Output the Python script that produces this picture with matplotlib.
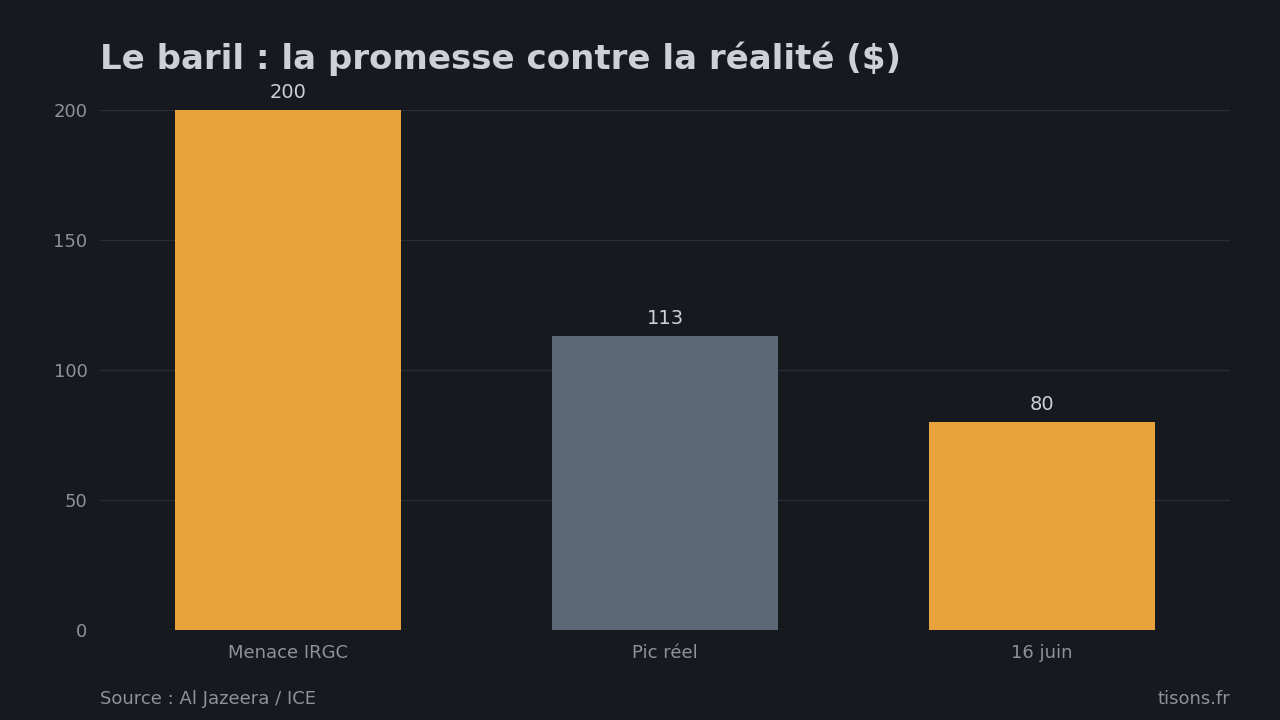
import matplotlib.pyplot as plt

categories = ["Menace IRGC", "Pic réel", "16 juin"]
values = [200, 113, 80]
colors = ["#E8A33C", "#5C6875", "#E8A33C"]

bg = "#16191E"
fig = plt.figure(figsize=(12.8, 7.2), dpi=100, facecolor=bg)
ax = fig.add_axes([100 / 1280, 1 - 630 / 720, 1130 / 1280, 520 / 720], facecolor=bg)

x = range(len(categories))
bars = ax.bar(x, values, width=0.6, color=colors, zorder=2)
for b, v in zip(bars, values):
    ax.text(b.get_x() + b.get_width() / 2, v + 3, f"{v}", ha="center", va="bottom",
            fontsize=14, color="#CDD0D5")

ax.set_xlim(-0.5, 2.5)
ax.set_ylim(0, 200)
ax.set_yticks([0, 50, 100, 150, 200])
ax.set_xticks(list(x))
ax.set_xticklabels(categories)
ax.grid(axis="y", color="#2A2D33", linewidth=1, zorder=0)
ax.tick_params(axis="both", length=0, colors="#8E939A", labelsize=13)
ax.tick_params(axis="y", pad=9)
ax.tick_params(axis="x", pad=10)
for s in ax.spines.values():
    s.set_visible(False)

fig.text(100 / 1280, 1 - 59 / 720, "Le baril : la promesse contre la réalité ($)",
         fontsize=24.5, fontweight="bold", color="#CDD0D5", va="center", ha="left")
fig.text(100 / 1280, 1 - 699 / 720, "Source : Al Jazeera / ICE", fontsize=13,
         color="#8E939A", va="center", ha="left")
fig.text(1230 / 1280, 1 - 699 / 720, "tisons.fr", fontsize=13,
         color="#8E939A", va="center", ha="right")

fig.savefig("out.png", dpi=100, facecolor=bg)
